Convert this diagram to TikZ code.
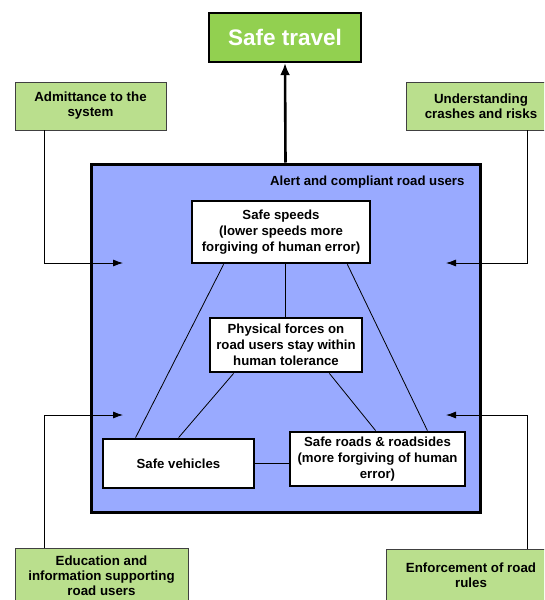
\documentclass[tikz,border=0pt]{standalone}
\usepackage{xcolor}
\usepackage{fontspec}
\setmainfont{Liberation Sans}
\usepackage{tikz}
\usetikzlibrary{shapes, arrows.meta}
\definecolor{travelgreen}{HTML}{92D050}
\definecolor{inputgreen}{HTML}{BADF8D}
\definecolor{alertblue}{HTML}{99AAFF}
\tikzstyle{goal} = [rectangle, minimum width=152pt, minimum height=49pt, text centered, draw=black, line width=2.2pt, fill=travelgreen, text=white, font=\bfseries\fontsize{22.5}{26}\selectfont]
\tikzstyle{input} = [rectangle, align=center, draw=black!75, line width=0.8pt, fill=inputgreen, font=\bfseries\fontsize{13.3}{15}\selectfont]
\tikzstyle{element} = [rectangle, align=center, draw=black, line width=2.8pt, fill=white, font=\bfseries\fontsize{13.2}{16}\selectfont]
\tikzstyle{system} = [rectangle, draw=black, line width=3pt, fill=alertblue]
\tikzstyle{arrow} = [line width=0.8pt,-{Latex[length=10pt,width=7pt]}]
\tikzstyle{bigarrow} = [line width=2.6pt,-{Latex[length=12pt,width=10pt]}]
\tikzstyle{link} = [line width=0.8pt]

\begin{document}
\begin{tikzpicture}[x=1pt, y=-1pt]
\clip (0,0) rectangle (544,600);
\fill[white] (0,0) rectangle (544,600);

%==============================================
%Safe system diagram
%==============================================
%Top==============================================
\node (travel) [goal] at (285,37.5) {Safe travel};

%System box==============================================
\node (alert) [system, minimum width=389pt, minimum height=348pt] at (285.5,338) {};
\node (alertlbl) [anchor=base east, font=\bfseries\fontsize{13.2}{16}\selectfont] at (468,185) {Alert and compliant road users};

%Elements==============================================
\node (speeds) [element, minimum width=178pt, minimum height=62pt] at (281,232) {Safe speeds\\(lower speeds more\\forgiving of human error)};
\node (forces) [element, minimum width=152pt, minimum height=54pt] at (286,345) {Physical forces on\\road users stay within\\human tolerance};
\node (vehicles) [element, minimum width=151pt, minimum height=49pt] at (178.5,463.5) {Safe vehicles};
\node (roads) [element, minimum width=175pt, minimum height=54pt] at (377.5,459) {Safe roads \& roadsides\\(more forgiving of human\\error)};

%Inputs==============================================
\node (admit) [input, minimum width=151pt, minimum height=48pt] at (90.5,106) {Admittance to the\\system};
\node (understand) [input, minimum width=150pt, minimum height=48pt] at (481,106) {Understanding\\crashes and risks};
\node (educ) [input, minimum width=173pt, minimum height=56pt] at (101.5,576) {Education and\\information supporting\\road users};
\node (enforce) [input, minimum width=170pt, minimum height=52pt] at (471,575) {Enforcement of road\\rules};

\coordinate (inA) at (123,263);
\coordinate (inB) at (446,263);
\coordinate (inC) at (123,415);
\coordinate (inD) at (446,415);
%==============================================
\draw [bigarrow] (alert.north) -- (travel.south);
\draw [link] ([xshift=33pt]speeds.south west) -- ([xshift=34pt]vehicles.north west);
\draw [link] ([xshift=-24pt]speeds.south east) -- ([xshift=-39pt]roads.north east);
\draw [link] (forces.north -| 285,0) -- (speeds.south -| 285,0);
\draw [link] ([xshift=25pt]forces.south west) -- ([xshift=77pt]vehicles.north west);
\draw [link] ([xshift=-34pt]forces.south east) -- ([xshift=87pt]roads.north west);
\draw [link] (vehicles.east) -- (vehicles.east -| roads.west);
\draw [arrow] ([xshift=30pt]admit.south west) |- (inA);
\draw [arrow] ([xshift=122pt]understand.south west) |- (inB);
\draw [arrow] ([xshift=30pt]educ.north west) |- (inC);
\draw [arrow] ([xshift=142pt]enforce.north west) |- (inD);
\end{tikzpicture}
\end{document}
